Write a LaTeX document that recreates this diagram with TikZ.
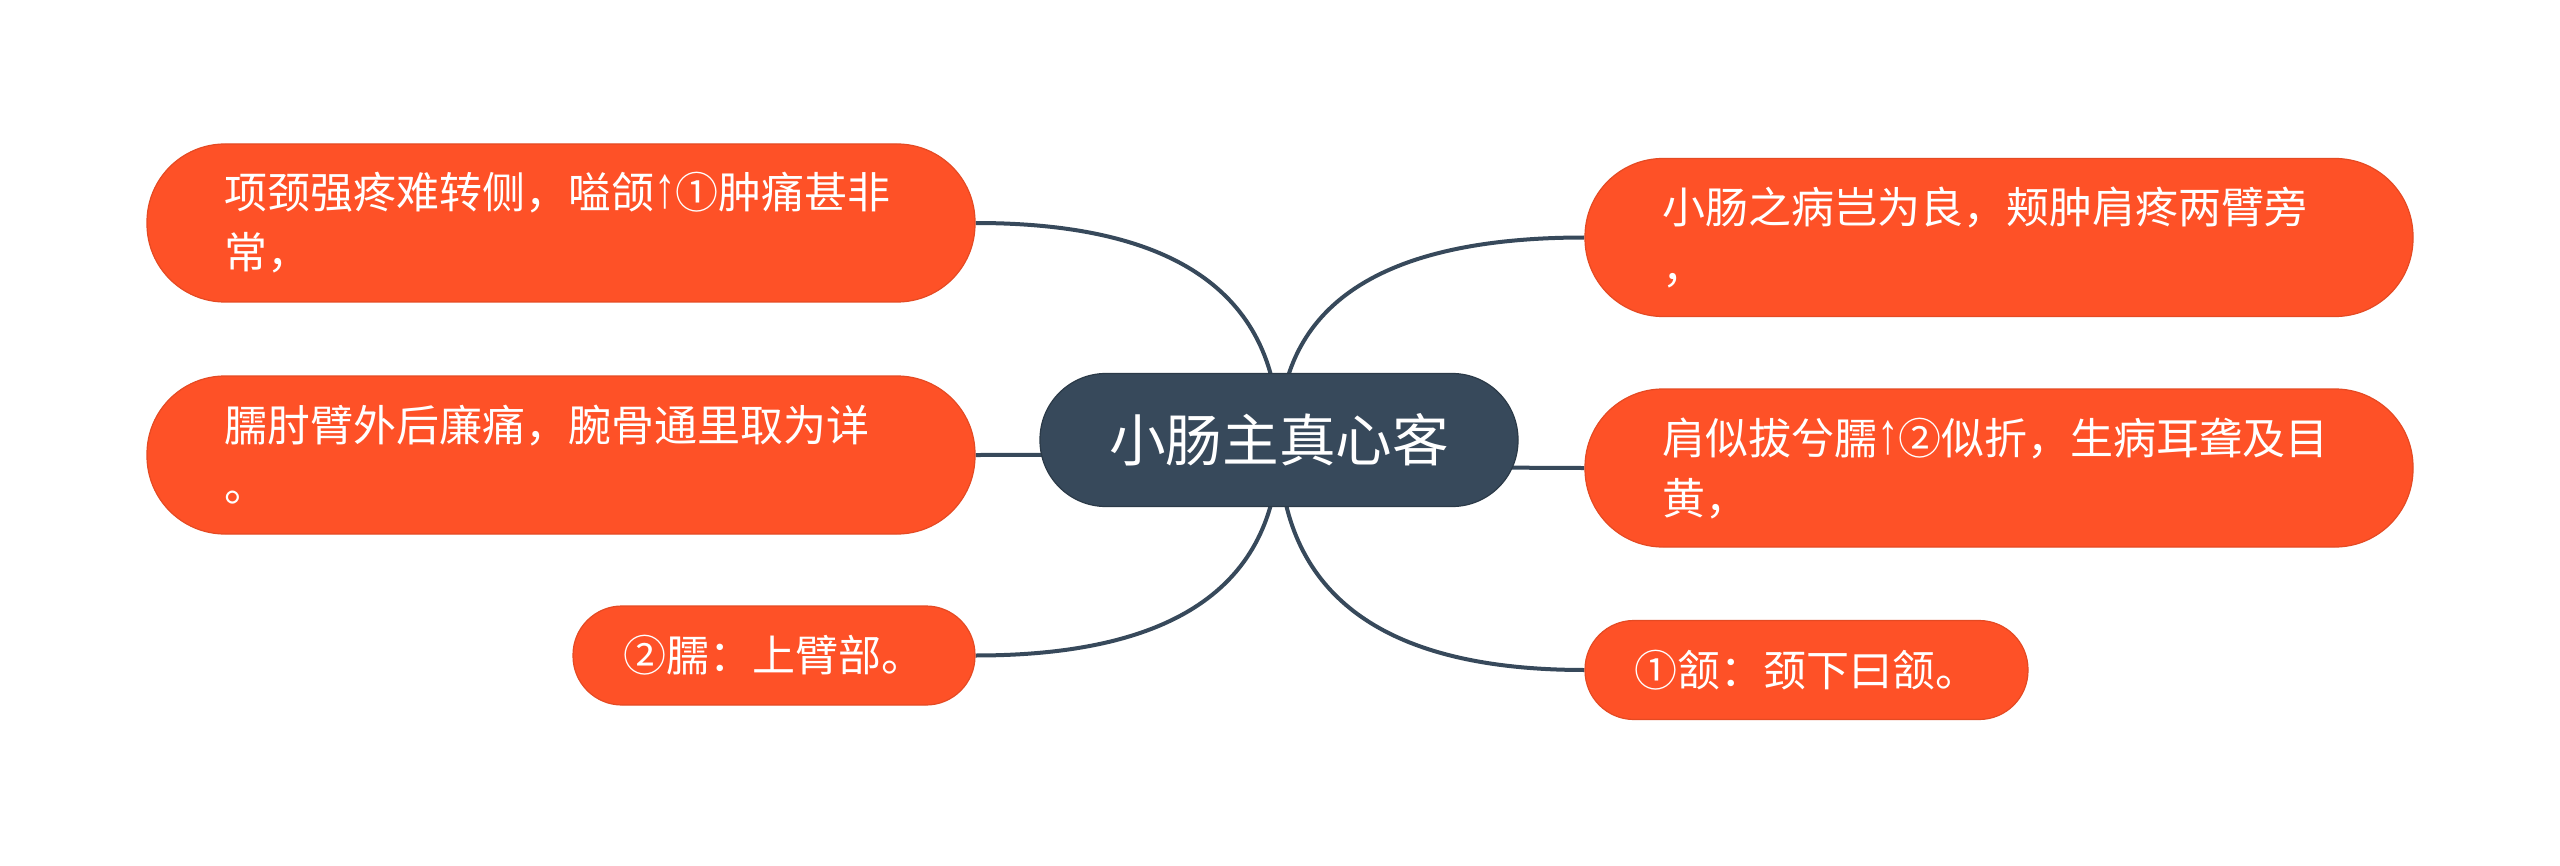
\documentclass[tikz,border=0pt]{standalone}
\usepackage{fontspec}
\usetikzlibrary{calc}
\setmainfont{Noto Sans CJK SC}
\newfontfamily\arrowfont{Liberation Sans}
\newcommand{\uparr}{{\arrowfont\raisebox{0.5pt}{\scalebox{1}[1.35]{↑}}}}
\definecolor{leaf}{HTML}{FE5127}
\definecolor{leafline}{HTML}{E54A23}
\definecolor{hub}{HTML}{37495B}
\definecolor{hubline}{HTML}{2B3A48}
\pgfdeclarelayer{bg}
\pgfsetlayers{bg,main}
\begin{document}
\begin{tikzpicture}[x=0.5pt,y=-0.5pt,
  leafbox/.style={draw=leafline, line width=0.6pt, fill=leaf, text=white,
    font=\fontsize{21.5pt}{30pt}\selectfont, inner ysep=0pt},
  twoline/.style={leafbox, rounded corners=39pt, minimum width=414pt, minimum height=79pt,
    text width=337pt, align=left, inner xsep=38.5pt},
  oneline/.style={leafbox, rounded corners=24.5pt, minimum height=49.5pt, align=center, inner xsep=0pt},
  hubbox/.style={draw=hubline, line width=0.6pt, fill=hub, text=white, rounded corners=33pt,
    minimum width=239pt, minimum height=66.5pt, font=\fontsize{28.3pt}{34pt}\selectfont},
  conn/.style={draw=hub, line width=2pt}]
\useasboundingbox (0,0) rectangle (2560,866);

\node[hubbox] (hub) at (1279,440) {小肠主真心客};

\node[twoline] (tl) at (561,223) {项颈强疼难转侧，嗌颌\uparr①肿痛甚非\\常，};
\node[twoline] (lm) at (561,455) {臑肘臂外后廉痛，腕骨通里取为详\\。};
\node[oneline, minimum width=201pt] (lb) at (774,655.5) {②臑：上臂部。};

\node[twoline] (tr) at (1999,237.5) {小肠之病岂为良，颊肿肩疼两臂旁\\，};
\node[twoline] (rm) at (1999,468) {肩似拔兮臑\uparr②似折，生病耳聋及目\\黄，};
\node[oneline, minimum width=221.5pt] (rb) at (1806.5,670) {①颔：颈下曰颔。};

\begin{pgfonlayer}{bg}
\fill[white] (0,0) rectangle (2560,866);
\foreach \n/\a in {tl/east,lm/east,lb/east,tr/west,rm/west,rb/west}
  \draw[conn] (hub.center) .. controls ($(hub.center)!2/3!(\n.\a -| hub.center)$)
     and ($(\n.\a)!2/3!(\n.\a -| hub.center)$) .. (\n.\a);
\end{pgfonlayer}
\end{tikzpicture}
\end{document}
